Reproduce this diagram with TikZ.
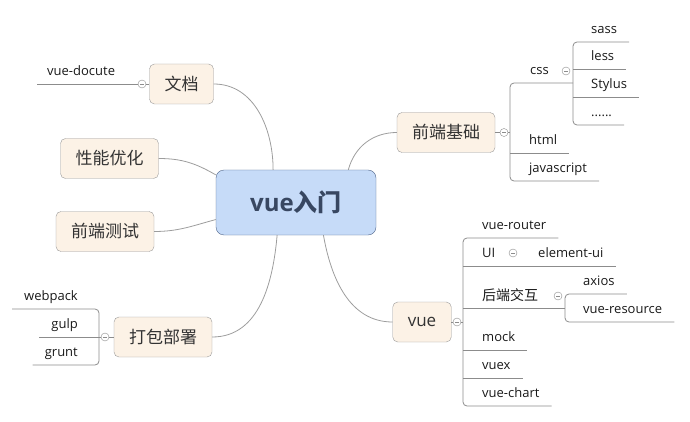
\documentclass[tikz,border=0pt]{standalone}
\usepackage{fontspec}
\setmainfont{Open Sans}
\newfontfamily\cjk{Noto Sans CJK SC}
\definecolor{TopicClr}{HTML}{FCF2E6}
\definecolor{TopicLine}{HTML}{9A9A9A}
\definecolor{RootClr}{HTML}{C6DBF8}
\definecolor{RootLine}{HTML}{50658A}
\definecolor{LineClr}{HTML}{8C8C8C}

\begin{document}
\begin{tikzpicture}[x=1pt,y=1pt,
  topic/.style={draw=TopicLine,fill=TopicClr,rounded corners=5pt,minimum height=40pt,inner xsep=15pt,
    text=black!80,font=\cjk\fontsize{17}{20}\selectfont},
  root/.style={draw=RootLine,fill=RootClr,rounded corners=8pt,minimum width=160pt,minimum height=65pt,
    text=RootLine!70!black,font=\bfseries\fontsize{24}{28}\selectfont},
  leaf/.style={anchor=south west,inner xsep=2pt,inner ysep=5.5pt,text height=9.5pt,text depth=3pt,
    text=black!90,font=\fontsize{13}{15}\selectfont},
  link/.style={draw=LineClr!85,line width=0.8pt},
  branch/.style={draw=LineClr,line width=0.8pt,rounded corners=4pt},
  fold/.style={circle,draw=LineClr,fill=white,minimum size=8pt,inner sep=0pt,
    path picture={\draw[LineClr,line width=0.6pt] ([xshift=-2pt]path picture bounding box.center)
      -- ([xshift=2pt]path picture bounding box.center);}}]
\useasboundingbox (0,0) rectangle (690,-422);

% main topics
\node[root] (root) at (296,-202.5) {vue{\cjk 入门}};
\node[topic] (wd) at (181.5,-84) {文档};
\node[topic] (xn) at (109.5,-158.5) {性能优化};
\node[topic] (cs) at (105,-231.5) {前端测试};
\node[topic] (db) at (163,-337) {打包部署};
\node[topic] (qd) at (446,-132.5) {前端基础};
\node[topic,font=\fontsize{17}{20}\selectfont] (vue) at (422,-322) {vue};

\draw[link] (wd.east) to[out=0,in=90] (root.125);
\draw[link] (xn.east) to[out=0,in=150] (root.161);
\draw[link] (cs.east) to[out=0,in=195] (root.192);
\draw[link] (db.east) to[out=0,in=-95] (root.240);
\draw[link] (root.32) to[out=75,in=180] (qd.west);
\draw[link] (root.-50) to[out=-80,in=180] (vue.west);

% fold marks
\node[fold] (f1) at (142,-84) {};
\node[fold] (f4) at (105,-337) {};
\node[fold] (f5) at (504,-132.5) {};
\node[fold] (f6) at (457,-322) {};
\node[fold] (f7) at (566,-71) {};
\node[fold] (f8) at (513,-253) {};
\node[fold] (f9) at (558,-296) {};

\coordinate (d1) at (37,-84);
\coordinate (b4) at (99,-337);
\coordinate (b5) at (510,-132.5);
\coordinate (b6) at (463,-322);
\coordinate (b7) at (565,-308);
\coordinate (b8) at (573,-83);

% 文档
\node[leaf] (vd) at (45,-84) {vue-docute};
\draw[branch] (d1) -- (f1.west);
\draw[branch] (f1.east) -- (wd.west);

% 打包部署
\node[leaf,anchor=south east] (wp) at (80,-309) {webpack};
\node[leaf,anchor=south east] (gu) at (80,-337) {gulp};
\node[leaf,anchor=south east] (gr) at (80,-365) {grunt};
\draw[branch] ([xshift=-10pt]wp.south west) -- (b4 |- wp.south) -- (b4 |- gr.south) -- ([xshift=-10pt]gr.south west);
\draw[branch] ([xshift=-10pt]gu.south west) -- (b4);
\draw[branch] (b4) -- (f4.west);
\draw[branch] (f4.east) -- (db.west);

% 前端基础
\node[leaf] (css) at (528,-83) {css};
\node[leaf] (ht) at (527,-153) {html};
\node[leaf] (js) at (527,-181) {javascript};
\node[leaf] (ss) at (589,-42) {sass};
\node[leaf] (ls) at (589,-69) {less};
\node[leaf] (st) at (589,-97) {Stylus};
\node[leaf] (dd) at (589,-125) {......};
\draw[branch] (qd.east) -- (f5.west);
\draw[branch] (f5.east) -- (b5);
\draw[branch] (b8) -- (b5 |- css.south) -- (b5 |- js.south) -- ([xshift=10pt]js.south east);
\draw[branch] (b5 |- ht.south) -- ([xshift=10pt]ht.south east);
\draw[branch] ([xshift=10pt]ss.south east) -- (b8 |- ss.south) -- (b8 |- dd.south) -- ([xshift=10pt]dd.south east);
\draw[branch] (b8 |- ls.south) -- ([xshift=10pt]ls.south east);
\draw[branch] (b8 |- st.south) -- ([xshift=10pt]st.south east);

% vue
\node[leaf] (vr) at (480,-238) {vue-router};
\node[leaf] (ui) at (480,-266) {UI};
\node[leaf] (el) at (536,-266) {element-ui};
\node[leaf,font=\cjk\fontsize{14}{16}\selectfont,inner ysep=4.5pt] (hd) at (480,-308) {后端交互};
\node[leaf] (ax) at (581,-294) {axios};
\node[leaf] (vrs) at (581,-322) {vue-resource};
\node[leaf] (mk) at (480,-350) {mock};
\node[leaf] (vx) at (480,-378) {vuex};
\node[leaf] (vc) at (480,-406) {vue-chart};
\draw[branch] (vue.east) -- (f6.west);
\draw[branch] (f6.east) -- (b6);
\draw[branch] ([xshift=10pt]vr.south east) -- (b6 |- vr.south) -- (b6 |- vc.south) -- ([xshift=10pt]vc.south east);
\draw[branch] (b6 |- ui.south) -- ([xshift=10pt]el.south east);
\draw[branch] (b6 |- hd.south) -- (b7);
\draw[branch] ([xshift=10pt]ax.south east) -- (b7 |- ax.south) -- (b7 |- vrs.south) -- ([xshift=10pt]vrs.south east);
\draw[branch] (b6 |- mk.south) -- ([xshift=10pt]mk.south east);
\draw[branch] (b6 |- vx.south) -- ([xshift=10pt]vx.south east);
\end{tikzpicture}
\end{document}
